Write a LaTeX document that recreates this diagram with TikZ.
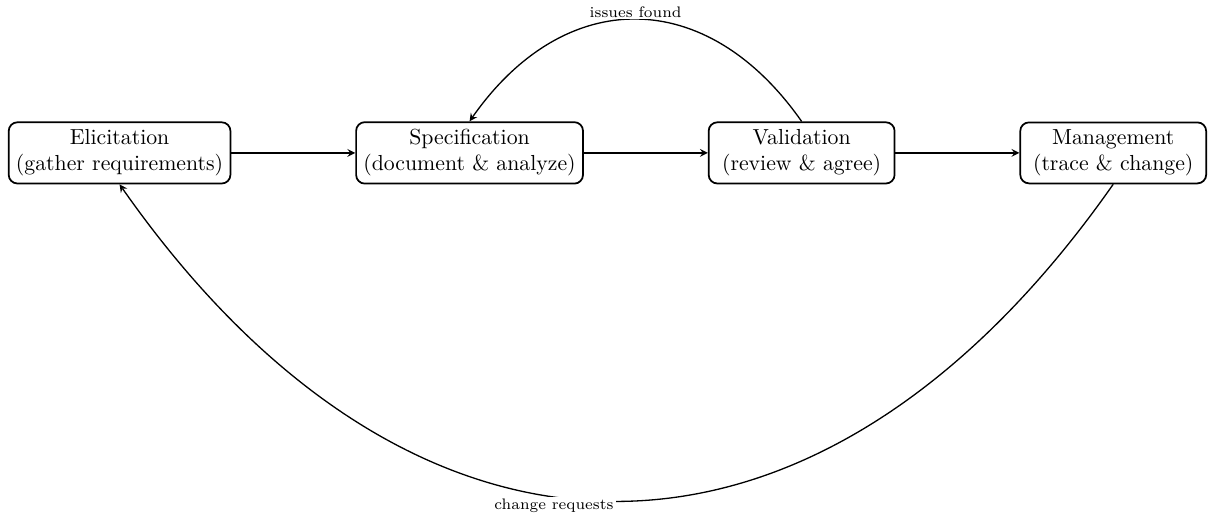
\documentclass[tikz,border=0pt]{standalone}
\usetikzlibrary{positioning}
\begin{document}
\begin{tikzpicture}[
    stage/.style={draw, thick, rounded corners, align=center, minimum width=3cm},
    flow/.style={-stealth, semithick},
    note/.style={font=\scriptsize, fill=white, inner sep=1pt}
]
    %%  Process stages
    \node [stage] (elic) {Elicitation\\(gather requirements)};
    \node [stage, right=2cm of elic] (spec) {Specification\\(document \& analyze)};
    \node [stage, right=2cm of spec] (val) {Validation\\(review \& agree)};
    \node [stage, right=2cm of val] (mgmt) {Management\\(trace \& change)};

    % Forward flow
    \draw [flow] (elic) -- (spec);
    \draw [flow] (spec) -- (val);
    \draw [flow] (val) -- (mgmt);

    % Feedback from validation
    \draw [flow] (val.north) to [bend right=55, looseness=1.28]
        node [note, above, inner sep=0.5pt] {issues found} (spec.north);
    % Feedback from management
    \draw [flow] (mgmt.south) to [bend left=55, looseness=1.33]
        node [note, anchor=north east, yshift=2pt] {change requests} (elic.south);

    \pgfresetboundingbox
    \path [use as bounding box] ([shift={(-3.6pt,70.2pt)}]elic.west) rectangle ([shift={(0.9pt,-165pt)}]mgmt.east);
\end{tikzpicture}
\end{document}
